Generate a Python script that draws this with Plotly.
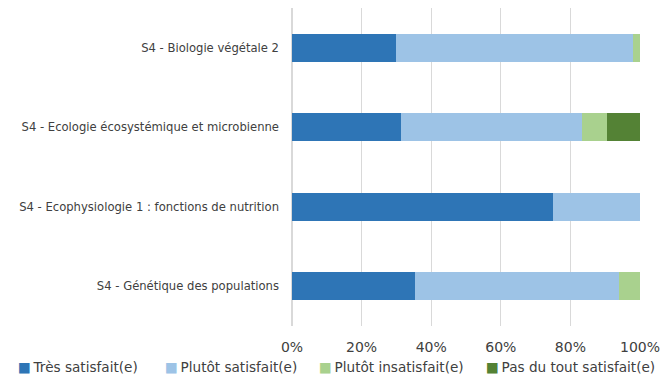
import plotly.graph_objects as go

# catégories (du haut vers le bas)
categories = [
    "S4 - Biologie végétale 2",
    "S4 - Ecologie écosystémique et microbienne",
    "S4 - Ecophysiologie 1 : fonctions de nutrition",
    "S4 - Génétique des populations",
]

# pourcentages par niveau de satisfaction
tres_satisfait = [30.0, 31.3, 75.0, 35.3]
plutot_satisfait = [68.0, 51.9, 25.0, 58.8]
plutot_insatisfait = [2.0, 7.3, 0.0, 5.9]
pas_satisfait = [0.0, 9.5, 0.0, 0.0]

tick_vals = [0, 20, 40, 60, 80, 100]
tick_text = ["0%", "20%", "40%", "60%", "80%", "100%"]

series = [
    ("Très satisfait(e)", tres_satisfait, "#2E75B6"),
    ("Plutôt satisfait(e)", plutot_satisfait, "#9DC3E6"),
    ("Plutôt insatisfait(e)", plutot_insatisfait, "#A9D18E"),
    ("Pas du tout satisfait(e)", pas_satisfait, "#548235"),
]

fig = go.Figure()
for name, vals, color in series:
    fig.add_trace(go.Bar(
        y=categories, x=vals, name=name, orientation="h",
        marker={"color": color, "line": {"width": 0}},
    ))

# légende sur une seule ligne sous le graphique (comme dans Excel)
legend_x = [-0.792, -0.372, 0.072, 0.551]
for (name, vals, color), lx in zip(series, legend_x):
    fig.add_annotation(
        xref="paper", yref="paper", x=lx, y=-0.128,
        xanchor="left", yanchor="middle", showarrow=False,
        text="<span style='color:{}'>■</span>\u2009{}".format(color, name),
        font={"size": 13.6, "color": "#404040"},
    )

# la page html ajoute une marge de 8px autour du graphique
fig.update_layout(
    width=661, height=371,
    barmode="stack", bargap=0.648,
    margin={"l": 284, "r": 29, "t": 0, "b": 53},
    paper_bgcolor="white", plot_bgcolor="white",
    font={"family": "DejaVu Sans", "color": "#404040"},
    showlegend=False,
    xaxis={
        "range": [0, 100], "tickmode": "array",
        "tickvals": tick_vals, "ticktext": tick_text,
        "showgrid": True, "gridcolor": "#D9D9D9",
        "gridwidth": 1, "zeroline": True, "zerolinecolor": "#D9D9D9",
        "showline": False, "ticks": "", "ticklabelstandoff": 11,
        "tickfont": {"size": 14, "color": "#404040"},
    },
    yaxis={
        "autorange": "reversed", "showgrid": False, "zeroline": False,
        "showline": False, "ticks": "", "ticklabelstandoff": 12,
        "tickfont": {"size": 11.6, "color": "#404040"},
    },
)

fig.write_html("out.html")
